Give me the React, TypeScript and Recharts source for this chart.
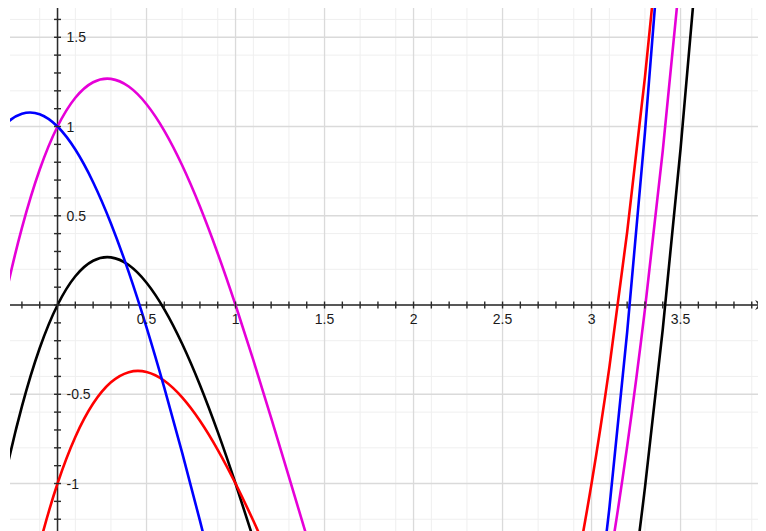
import React from "react";
import {
  LineChart,
  Line,
  XAxis,
  YAxis,
  CartesianGrid,
  ReferenceLine,
  ReferenceDot,
} from "recharts";

// sample points (x step 0.1)
const xs = [
  -0.4, -0.3, -0.2, -0.1, 0, 0.1, 0.2, 0.3, 0.4, 0.5, 0.6, 0.7, 0.8, 0.9, 1.0,
  1.1, 1.2, 1.3, 1.4, 1.5, 1.6, 1.7, 1.8, 1.9, 2.0, 2.1, 2.2, 2.3, 2.4, 2.5,
  2.6, 2.7, 2.8, 2.9, 3.0, 3.1, 3.2, 3.3, 3.4, 3.5, 3.6, 3.7, 3.8,
];
const blackVals = [
  -1.504, -0.987, -0.568, -0.241, 0, 0.161, 0.248, 0.267, 0.224, 0.125, -0.024,
  -0.217, -0.448, -0.711, -1, -1.309, -1.632, -1.963, -2.296, -2.625, -2.944,
  -3.247, -3.528, -3.781, -4, -4.179, -4.312, -4.393, -4.416, -4.375, -4.264,
  -4.077, -3.808, -3.451, -3, -2.449, -1.792, -1.023, -0.136, 0.875, 2.016,
  3.293, 4.712,
];
const magentaVals = [
  -0.504, 0.013, 0.432, 0.759, 1, 1.161, 1.248, 1.267, 1.224, 1.125, 0.976,
  0.783, 0.552, 0.289, 0, -0.309, -0.632, -0.963, -1.296, -1.625, -1.944,
  -2.247, -2.528, -2.781, -3, -3.179, -3.312, -3.393, -3.416, -3.375, -3.264,
  -3.077, -2.808, -2.451, -2, -1.449, -0.792, -0.023, 0.864, 1.875, 3.016,
  4.293, 5.712,
];
const redVals = [
  -2.904, -2.287, -1.768, -1.341, -1, -0.739, -0.552, -0.433, -0.376, -0.375,
  -0.424, -0.517, -0.648, -0.811, -1, -1.209, -1.432, -1.663, -1.896, -2.125,
  -2.344, -2.547, -2.728, -2.881, -3, -3.079, -3.112, -3.093, -3.016, -2.875,
  -2.664, -2.377, -2.008, -1.551, -1, -0.349, 0.408, 1.277, 2.264, 3.375,
  4.616, 5.993, 7.512,
];
const blueVals = [
  0.856, 1.003, 1.072, 1.069, 1, 0.871, 0.688, 0.457, 0.184, -0.125, -0.464,
  -0.827, -1.208, -1.601, -2, -2.399, -2.792, -3.173, -3.536, -3.875, -4.184,
  -4.457, -4.688, -4.871, -5, -5.069, -5.072, -5.003, -4.856, -4.625, -4.304,
  -3.887, -3.368, -2.741, -2, -1.139, -0.152, 0.967, 2.224, 3.625, 5.176,
  6.883, 8.752,
];

const xLabels = [0.5, 1, 1.5, 2, 2.5, 3, 3.5];
const yLabels = [1.5, 1, 0.5, -0.5, -1];

const X_MIN = -0.267;
const X_MAX = 3.98;
const Y_MIN = -1.266;
const Y_MAX = 1.664;

const data = xs.map((x, i) => ({
  x,
  black: blackVals[i],
  magenta: magentaVals[i],
  red: redVals[i],
  blue: blueVals[i],
}));

// grid / tick positions
const steps = (from: number, to: number, step: number) => {
  const out: number[] = [];
  for (let k = Math.round(from / step); k * step <= to + 1e-9; k++) {
    out.push(Math.round(k * step * 1000) / 1000);
  }
  return out;
};
const xMinor = steps(-0.2, 3.9, 0.1);
const yMinor = steps(-1.2, 1.6, 0.1);
const xMajor = steps(0, 3.5, 0.5);
const yMajor = steps(-1, 1.5, 0.5);

const AXIS = "#2a2a2a";
const FONT = "'Liberation Sans', Arial, Helvetica, sans-serif";

const xTick = (props: any) => (
  <line
    x1={props.cx}
    x2={props.cx}
    y1={props.cy - 3.5}
    y2={props.cy + 3.5}
    stroke={AXIS}
    strokeWidth={1.4}
  />
);
const yTick = (props: any) => (
  <line
    x1={props.cx - 3.5}
    x2={props.cx + 3.5}
    y1={props.cy}
    y2={props.cy}
    stroke={AXIS}
    strokeWidth={1.4}
  />
);
const xLabel = (v: number) => (props: any) => (
  <text
    x={props.cx}
    y={props.cy + 19}
    textAnchor="middle"
    fontSize={14}
    fontFamily={FONT}
    fill="#1a1a1a"
  >
    {String(v)}
  </text>
);
const yLabel = (v: number) => (props: any) => (
  <text
    x={props.cx + 9}
    y={props.cy + 5}
    textAnchor="start"
    fontSize={14}
    fontFamily={FONT}
    fill="#1a1a1a"
  >
    {String(v)}
  </text>
);
const arrow = (props: any) => (
  <path
    d={`M ${props.cx} ${props.cy} L ${props.cx - 10} ${props.cy - 5} L ${props.cx - 7} ${props.cy} L ${props.cx - 10} ${props.cy + 5} Z`}
    fill={AXIS}
  />
);

export default function App() {
  return (
    <div style={{ width: 758, height: 523 }}>
      <LineChart
        width={758}
        height={523}
        data={data}
        margin={{ top: 0, right: 0, bottom: 0, left: 2 }}
      >
        <XAxis
          dataKey="x"
          type="number"
          domain={[X_MIN, X_MAX]}
          allowDataOverflow
          hide
        />
        <YAxis type="number" domain={[Y_MIN, Y_MAX]} allowDataOverflow hide />
        <CartesianGrid
          verticalValues={xMinor}
          horizontalValues={yMinor}
          stroke="#efefef"
          strokeWidth={1}
        />
        <CartesianGrid
          verticalValues={xMajor}
          horizontalValues={yMajor}
          stroke="#dadada"
          strokeWidth={1.3}
        />
        <ReferenceLine x={0} stroke={AXIS} strokeWidth={1.5} />
        <ReferenceLine y={0} stroke={AXIS} strokeWidth={1.5} />
        {xMinor.map((v) => (
          <ReferenceDot key={`xt${v}`} x={v} y={0} r={0} shape={xTick} />
        ))}
        {yMinor.map((v) => (
          <ReferenceDot key={`yt${v}`} x={0} y={v} r={0} shape={yTick} />
        ))}
        {xLabels.map((v) => (
          <ReferenceDot key={`xl${v}`} x={v} y={0} r={0} shape={xLabel(v)} />
        ))}
        {yLabels.map((v) => (
          <ReferenceDot key={`yl${v}`} x={0} y={v} r={0} shape={yLabel(v)} />
        ))}
        <ReferenceDot x={3.975} y={0} r={0} shape={arrow} />
        <Line
          type="natural"
          dataKey="black"
          stroke="#000000"
          strokeWidth={2.6}
          dot={false}
          isAnimationActive={false}
        />
        <Line
          type="natural"
          dataKey="red"
          stroke="#ff0000"
          strokeWidth={2.6}
          dot={false}
          isAnimationActive={false}
        />
        <Line
          type="natural"
          dataKey="magenta"
          stroke="#e600d8"
          strokeWidth={2.6}
          dot={false}
          isAnimationActive={false}
        />
        <Line
          type="natural"
          dataKey="blue"
          stroke="#0000ff"
          strokeWidth={2.6}
          dot={false}
          isAnimationActive={false}
        />
      </LineChart>
    </div>
  );
}
